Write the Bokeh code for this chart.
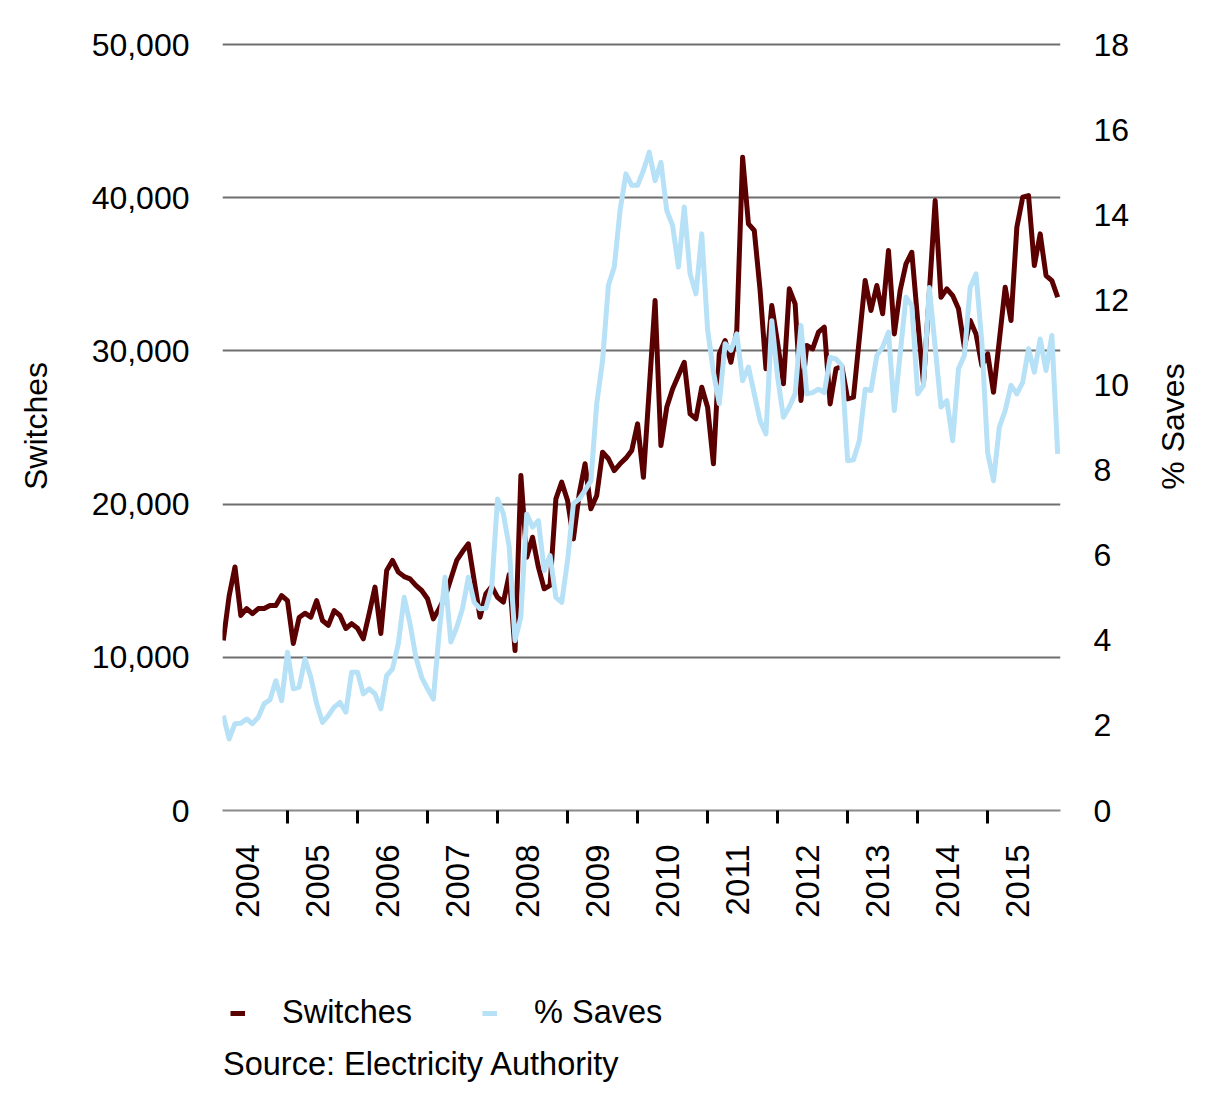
import math
import numpy as np
from bokeh.plotting import figure
from bokeh.layouts import column
from bokeh.models import (Range1d, LinearAxis, FixedTicker, NumeralTickFormatter,
                          Legend, LegendItem, Label)
from bokeh.embed import file_html
from bokeh.resources import INLINE

# ---------------- data (monthly, Feb 2004 - Jan 2016) ----------------
start_year = 2004
start_month = 2

switches = [
    11100, 14000, 15900, 12730, 13180, 12850, 13180, 13180, 13380, 13380, 14030, 13700,
    10900, 12600, 12880, 12620, 13700, 12400, 12080, 13050, 12730, 11880, 12200, 11900,
    11210, 12850, 14580, 11550, 15660, 16320, 15560, 15270, 15120, 14690, 14360, 13820,
    12510, 13170, 13920, 15120, 16320, 16900, 17410, 15010, 12620, 14140, 14620, 13920,
    13600, 15400, 10440, 21870, 16530, 17840, 15880, 14470, 14690, 20340, 21430, 20230,
    17730, 20670, 22630, 19690, 20560, 23390, 22960, 22190, 22630, 23000, 23500, 25240,
    21750, 27500, 33290, 23820, 26320, 27520, 28390, 29260, 25890, 25570, 27630, 26320,
    22630, 29810, 30680, 29260, 31330, 42640, 38290, 37860, 33940, 28830, 32960, 30500,
    27850, 34050, 33070, 26760, 30350, 30130, 31220, 31550, 26540, 28830, 29000, 26870,
    26980, 30800, 34590, 32640, 34270, 32420, 36550, 31110, 33940, 35680, 36440, 32000,
    27900, 33800, 39810, 33500, 34050, 33610, 32750, 30240, 31980, 31110, 29040, 29810,
    27300, 30700, 34160, 31980, 38070, 40030, 40140, 35570, 37640, 34920, 34590, 33500,
]

saves = [
    2.23, 1.68, 2.04, 2.05, 2.15, 2.04, 2.19, 2.51, 2.60, 3.05, 2.58, 3.72,
    2.86, 2.90, 3.56, 3.13, 2.51, 2.07, 2.23, 2.43, 2.54, 2.31, 3.25, 3.25,
    2.74, 2.86, 2.74, 2.39, 3.17, 3.33, 3.92, 5.01, 4.39, 3.60, 3.13, 2.86,
    2.62, 4.19, 5.48, 3.96, 4.30, 4.75, 5.48, 4.89, 4.74, 4.75, 5.25, 7.32,
    6.97, 6.19, 3.99, 4.55, 6.97, 6.66, 6.81, 5.64, 5.99, 5.01, 4.89, 5.87,
    7.21, 7.32, 7.52, 7.75, 9.56, 10.57, 12.34, 12.77, 14.10, 14.96, 14.69, 14.69,
    15.04, 15.47, 14.80, 15.23, 14.10, 13.75, 12.77, 14.18, 12.61, 12.14, 13.55, 11.30,
    10.30, 9.56, 10.97, 10.81, 11.20, 10.10, 10.42, 9.79, 9.16, 8.85, 11.51, 10.18,
    9.24, 9.48, 9.79, 11.40, 9.79, 9.82, 9.90, 9.82, 10.65, 10.61, 10.46, 8.22,
    8.24, 8.69, 9.90, 9.87, 10.69, 10.89, 11.24, 9.40, 10.73, 12.06, 11.87, 9.79,
    9.99, 12.29, 10.89, 9.48, 9.63, 8.69, 10.38, 10.69, 12.29, 12.61, 11.00, 8.40,
    7.75, 9.01, 9.40, 9.99, 9.79, 10.06, 10.85, 10.30, 11.08, 10.34, 11.16, 8.38,
]

year_labels = ["2004", "2005", "2006", "2007", "2008", "2009",
               "2010", "2011", "2012", "2013", "2014", "2015"]
year_boundaries = [2005, 2006, 2007, 2008, 2009, 2010, 2011, 2012, 2013, 2014, 2015]
left_ticks = [0, 10000, 20000, 30000, 40000, 50000]
right_ticks = [0, 2, 4, 6, 8, 10, 12, 14, 16, 18]

series_names = ["Switches", "% Saves"]
source_text = "Source: Electricity Authority"

# ---------------- styling ----------------
DARK = "#5a0000"
LIGHT = "#b7e1f6"
GRID = "#6e6e6e"
FONT = "Liberation Sans"
FS = "32px"
FS_BIG = "32.5px"
FS_YEAR = "33px"

W = 1216
H_MAIN = 930
H_FOOT = 1108 - H_MAIN

x = [start_year + (start_month - 1 + i) / 12.0 for i in range(len(switches))]
x0, x1 = 2004.072, 2016.04
label_shift = 0.43
head = 769.0 / 766.0  # headroom so top grid line is drawn inside the frame
saves_title_pos = 7.54  # where the (start of the) rotated right-hand title sits

p = figure(width=W, height=H_MAIN, output_backend="svg", toolbar_location=None,
           x_range=Range1d(x0, x1), y_range=Range1d(0, 50000 * head),
           min_border_left=222, min_border_right=156, min_border_top=41,
           min_border_bottom=H_MAIN - 810, x_axis_location=None, y_axis_location=None)
p.outline_line_color = None
p.background_fill_color = "white"
p.border_fill_color = "white"
p.xgrid.visible = False
p.ygrid.ticker = FixedTicker(ticks=left_ticks)
p.ygrid.grid_line_color = GRID
p.ygrid.grid_line_width = 2

p.extra_y_ranges = {"saves": Range1d(0, 18 * head)}
p.extra_x_ranges = {"yr": Range1d(x0 - label_shift, x1 - label_shift)}


def plain(axis):
    axis.axis_line_color = None
    axis.major_tick_out = 0
    axis.major_tick_in = 0
    axis.minor_tick_out = 0
    axis.minor_tick_in = 0
    axis.major_label_text_font = FONT
    axis.major_label_text_font_size = FS
    axis.major_label_text_color = "black"


# left axis
ly = LinearAxis(ticker=FixedTicker(ticks=left_ticks),
                formatter=NumeralTickFormatter(format="0,0"),
                axis_label=series_names[0])
plain(ly)
ly.major_label_standoff = 33
ly.axis_label_text_font = FONT
ly.axis_label_text_font_size = FS
ly.axis_label_text_font_style = "normal"
ly.axis_label_text_color = "black"
ly.axis_label_standoff = 35
p.add_layout(ly, "left")

# right axis (ticks)
ry = LinearAxis(y_range_name="saves", ticker=FixedTicker(ticks=right_ticks))
plain(ry)
ry.major_label_standoff = 33
p.add_layout(ry, "right")

# right-hand title, rotated to read bottom-to-top
rt = LinearAxis(y_range_name="saves", ticker=FixedTicker(ticks=[saves_title_pos]),
                major_label_overrides={saves_title_pos: series_names[1],
                                       str(saves_title_pos): series_names[1]})
plain(rt)
rt.major_label_orientation = math.pi / 2
rt.major_label_standoff = 41
p.add_layout(rt, "right")

# bottom axis: line + year boundary ticks
bx = LinearAxis(ticker=FixedTicker(ticks=year_boundaries))
bx.axis_line_color = "#8a8a8a"
bx.axis_line_width = 2
bx.major_tick_in = 0
bx.major_tick_out = 13
bx.major_tick_line_width = 3
bx.major_tick_line_color = "black"
bx.minor_tick_out = 0
bx.minor_tick_in = 0
bx.major_label_text_font_size = "1px"
bx.major_label_text_alpha = 0
bx.major_label_standoff = 0
p.add_layout(bx, "below")

# bottom axis: year labels at mid-year
lx = LinearAxis(x_range_name="yr",
                ticker=FixedTicker(ticks=[int(y) for y in year_labels]),
                major_label_overrides={int(y): y for y in year_labels})
plain(lx)
lx.major_label_orientation = math.pi / 2
lx.major_label_standoff = 21
lx.major_label_text_font_size = FS_YEAR
p.add_layout(lx, "below")

p.line(x, switches, line_color=DARK, line_width=5, line_join="round")
p.line(x, saves, y_range_name="saves", line_color=LIGHT, line_width=5,
       line_join="round")

# ---------------- footer: legend + source ----------------
# (its frame is aligned with the main frame, 222..1060 px)
f = figure(width=W, height=H_FOOT, output_backend="svg", toolbar_location=None,
           x_range=Range1d(222, 1060), y_range=Range1d(H_FOOT, 0),
           min_border=0, min_border_left=0, min_border_right=0,
           min_border_top=0, min_border_bottom=0,
           x_axis_location=None, y_axis_location=None)
f.outline_line_color = None
f.grid.visible = False
f.background_fill_color = "white"
f.border_fill_color = "white"

# legend proxies (no visible data)
k1 = f.line(np.array([np.nan, np.nan]), np.array([np.nan, np.nan]),
            line_color=DARK, line_width=5)
k2 = f.line(np.array([np.nan, np.nan]), np.array([np.nan, np.nan]),
            line_color=LIGHT, line_width=5)

legend = Legend(items=[LegendItem(label=series_names[0], renderers=[k1]),
                       LegendItem(label=series_names[1], renderers=[k2])],
                location=(8, 77), orientation="horizontal",
                glyph_width=15, glyph_height=36, label_height=36,
                label_standoff=37, spacing=70,
                padding=0, margin=0, border_line_color=None,
                background_fill_alpha=0,
                label_text_font=FONT, label_text_font_size=FS_BIG,
                label_text_color="black")
f.add_layout(legend, "center")

f.add_layout(Label(x=222.5, y=133, text=source_text, text_font=FONT,
                   text_font_size=FS_BIG, text_baseline="middle", text_color="black"))

layout = column(p, f, spacing=0)
open("out.html", "w").write(file_html(layout, INLINE))
